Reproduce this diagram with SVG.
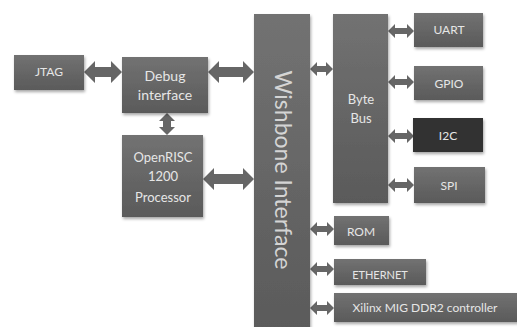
<svg xmlns="http://www.w3.org/2000/svg" width="517" height="327" viewBox="0 0 517 327">
<defs>
<linearGradient id="g" x1="0" y1="0" x2="0" y2="1">
<stop offset="0" stop-color="#727272"/>
<stop offset="1" stop-color="#5a5a5a"/>
</linearGradient>
<filter id="sh" x="-10%" y="-10%" width="130%" height="130%">
<feDropShadow dx="1" dy="2" stdDeviation="1.5" flood-color="#000" flood-opacity="0.35"/>
</filter>
</defs>
<style>
.box{fill:url(#g);filter:url(#sh);}
.dark{fill:#333;filter:url(#sh);}
.t{font-family:Lato,"Open Sans","Liberation Sans",sans-serif;font-size:12px;fill:#e6e6e6;text-anchor:middle;}
.arr{fill:#666;}
</style>
<rect width="517" height="327" fill="#fff"/>
<g id="connectors" class="arr">
<path d="M84,72 L95,61 L95,67 L111,67 L111,61 L122,72 L111,83 L111,77 L95,77 L95,83 Z"/>
<path d="M208,72 L219,61 L219,67 L243,67 L243,61 L254,72 L243,83 L243,77 L219,77 L219,83 Z"/>
<path d="M203,179 L214,168 L214,174 L243,174 L243,168 L254,179 L243,190 L243,184 L214,184 L214,190 Z"/>
<path d="M167,113 L175,121 L171,121 L171,127 L175,127 L167,135 L159,127 L163,127 L163,121 L159,121 Z"/>
<path d="M310,69 L317,62 L317,66 L326,66 L326,62 L333,69 L326,76 L326,72 L317,72 L317,76 Z"/>
<path d="M388,31 L395,24 L395,28 L407,28 L407,24 L414,31 L407,38 L407,34 L395,34 L395,38 Z"/>
<path d="M388,82 L395,75 L395,79 L407,79 L407,75 L414,82 L407,89 L407,85 L395,85 L395,89 Z"/>
<path d="M388,136 L395,129 L395,133 L407,133 L407,129 L414,136 L407,143 L407,139 L395,139 L395,143 Z"/>
<path d="M388,185 L395,178 L395,182 L407,182 L407,178 L414,185 L407,192 L407,188 L395,188 L395,192 Z"/>
<path d="M310,229 L317,222 L317,226 L327,226 L327,222 L334,229 L327,236 L327,232 L317,232 L317,236 Z"/>
<path d="M310,269 L317,262 L317,266 L327,266 L327,262 L334,269 L327,276 L327,272 L317,272 L317,276 Z"/>
<path d="M310,308 L317,301 L317,305 L327,305 L327,301 L334,308 L327,315 L327,311 L317,311 L317,315 Z"/>
</g>
<g id="jtag"><rect class="box" x="14" y="55" width="70" height="35"/><text class="t" x="49" y="76">JTAG</text></g>
<g id="debug"><rect class="box" x="122" y="57" width="86" height="56"/><text class="t" x="165" y="81" style="font-size:14px">Debug</text><text class="t" x="165" y="100" style="font-size:14px">interface</text></g>
<g id="openrisc"><rect class="box" x="122" y="135" width="81" height="82"/><text class="t" x="163" y="162" style="font-size:13px">OpenRISC</text><text class="t" x="163" y="181" style="font-size:13px">1200</text><text class="t" x="163" y="202" style="font-size:13px">Processor</text></g>
<g id="wishbone"><rect class="box" x="254" y="14" width="56" height="320"/><text class="t" transform="translate(275,170) rotate(90)" style="font-size:23px;fill:#d4d4d4">Wishbone Interface</text></g>
<g id="bytebus"><rect class="box" x="333" y="14" width="55" height="189"/><text class="t" x="361" y="104" style="font-size:13px">Byte</text><text class="t" x="361" y="123" style="font-size:13px">Bus</text></g>
<g id="uart"><rect class="box" x="414" y="13" width="69" height="34"/><text class="t" x="449" y="34">UART</text></g>
<g id="gpio"><rect class="box" x="414" y="66" width="69" height="34"/><text class="t" x="449" y="88">GPIO</text></g>
<g id="i2c"><rect class="dark" x="413" y="118" width="70" height="34"/><text class="t" x="448" y="140">I2C</text></g>
<g id="spi"><rect class="box" x="414" y="167" width="71" height="36"/><text class="t" x="449" y="190">SPI</text></g>
<g id="rom"><rect class="box" x="334" y="216" width="55" height="29"/><text class="t" x="361" y="236">ROM</text></g>
<g id="ethernet"><rect class="box" x="334" y="259" width="92" height="26"/><text class="t" x="380" y="279" style="font-size:11px">ETHERNET</text></g>
<g id="xilinx"><rect class="box" x="334" y="293" width="190" height="29"/><text class="t" x="425" y="312">Xilinx MIG DDR2 controller</text></g>
</svg>
